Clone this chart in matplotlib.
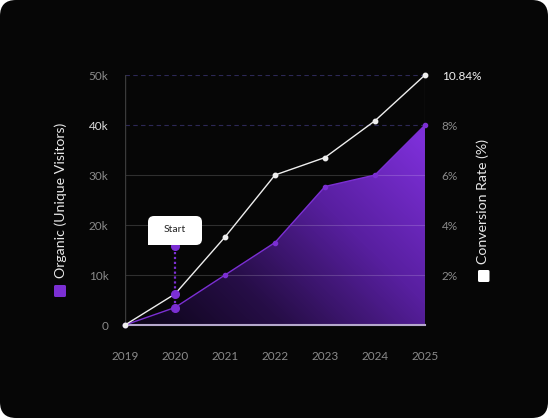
import matplotlib.pyplot as plt
import matplotlib.transforms as mtransforms
from matplotlib.patches import FancyBboxPatch, Rectangle, Polygon
from matplotlib.colors import LinearSegmentedColormap
import numpy as np

plt.rcParams['font.family'] = ['Lato', 'DejaVu Sans']

#data
years = [2019, 2020, 2021, 2022, 2023, 2024, 2025]
organic = [0, 3500, 10000, 16500, 27700, 30000, 40000]
conversion = [0, 1.24, 3.52, 6.0, 6.7, 8.17, 10.0]
left_ticks = [0, 10000, 20000, 30000, 40000, 50000]
left_labels = ['0', '10k', '20k', '30k', '40k', '50k']
right_ticks = [2, 4, 6, 8, 10]
right_labels = ['2%', '4%', '6%', '8%', '10.84%']
start_year = 2020
start_top = 15800

purple = '#7b2fd3'
gray = '#8a8a8a'

fig = plt.figure(figsize=(5.48, 4.18), dpi=100)
fig.patch.set_facecolor('white')

#rounded dark card, kept behind the axes
card = FancyBboxPatch((0, 0), 5.48, 4.18, boxstyle='round,pad=0,rounding_size=0.16',
                      transform=fig.dpi_scale_trans, fc='#060606', ec='none', zorder=-10)
fig.patches.append(card)

ax = fig.add_axes([125/548, 1-325/418, 300/548, 250/418])
ax.set_facecolor('none')
ax.set_xlim(2019, 2025)
ax.set_ylim(0, 50000)
for s in ax.spines.values():
    s.set_visible(False)

#gradient area
cmap = LinearSegmentedColormap.from_list('grad', ['#0a0414', '#270e48', '#581fa0', '#7d2fd8'])
xx, yy = np.meshgrid(np.linspace(0, 1, 300), np.linspace(0, 1, 250))
t = np.clip(0.62*xx + 0.42*yy*1.25, 0, 1)
img = ax.imshow(t, cmap=cmap, extent=[2019, 2025, 0, 50000], origin='lower',
                aspect='auto', zorder=1, vmin=0, vmax=1)
poly = Polygon(list(zip(years, organic)) + [(2025, 0), (2019, 0)], closed=True,
               transform=ax.transData, fc='none', ec='none')
ax.add_patch(poly)
img.set_clip_path(poly)

#grid
for v in [10000, 20000, 30000]:
    ax.axhline(v, color='white', alpha=0.17, lw=0.8, zorder=2)
for v in [40000, 50000]:
    ax.axhline(v, color='#2c2856', lw=0.8, ls=(0, (4, 3)), zorder=2)
ax.axvline(2019, color='#3a3a3a', lw=1, zorder=2)
ax.plot([2025, 2025], [0, 50000], color='#5a5a5a', lw=0.8, zorder=2)
ax.axhline(0, color='#b5a8cc', lw=1.5, zorder=3, clip_on=False)

#lines
ax.plot(years, organic, color=purple, lw=1, marker='o', ms=3, zorder=4, clip_on=False)
ax2 = ax.twinx()
ax2.set_ylim(0, 10)
for s in ax2.spines.values():
    s.set_visible(False)
ax2.plot(years, conversion, color='#eeeeee', lw=1, marker='o', ms=3.2, zorder=5, clip_on=False)

#start marker, drawn on the top axes (conversion units: 1% = 5k)
ax2.plot([start_year, start_year], [organic[1]/5000, start_top/5000], color=purple, lw=1.6,
         ls=(0, (1, 1.2)), zorder=6)
ax2.plot([start_year]*3, [organic[1]/5000, conversion[1], start_top/5000],
         'o', color=purple, ms=5.5, zorder=7, clip_on=False)
tr = fig.dpi_scale_trans + mtransforms.ScaledTranslation(start_year, 18900/5000, ax2.transData)
box = FancyBboxPatch((-0.27, -0.145), 0.54, 0.29, boxstyle='round,pad=0,rounding_size=0.06',
                     transform=tr, fc='white', ec='none', zorder=8)
ax2.add_artist(box)
ax2.add_artist(Rectangle((-0.27, -0.145), 0.08, 0.08, transform=tr, fc='white', ec='none', zorder=8))
ax2.text(0, 0.01, 'Start', transform=tr, ha='center', va='center', fontsize=7.5,
         color='#222222', zorder=9)

#ticks
ax.set_xticks(years)
ax.set_xticklabels([str(y) for y in years])
ax.set_yticks(left_ticks)
ax.set_yticklabels(left_labels)
ax.tick_params(axis='x', length=0, pad=19, labelsize=8.5, labelcolor=gray)
ax.tick_params(axis='y', length=0, pad=12, labelsize=8.5, labelcolor=gray)
ax.get_yticklabels()[4].set_color('#dddddd')
ax2.set_yticks(right_ticks)
ax2.set_yticklabels(right_labels)
ax2.tick_params(axis='y', length=0, pad=12, labelsize=8.5, labelcolor=gray)
ax2.get_yticklabels()[-1].set_color('#f2f2f2')

#axis titles with colour keys
fig.text(61/548, 1-200/418, 'Organic (Unique Visitors)', rotation=90, ha='center',
         va='center', fontsize=10.2, color='#e8e8e8')
fig.patches.append(FancyBboxPatch((0.54, 4.18-2.97), 0.12, 0.12,
                                  boxstyle='round,pad=0,rounding_size=0.015',
                                  transform=fig.dpi_scale_trans, fc=purple, ec='none'))
fig.text(483/548, 1-201/418, 'Conversion Rate (%)', rotation=90, ha='center',
         va='center', fontsize=10.2, color='#e8e8e8')
fig.patches.append(FancyBboxPatch((4.78, 4.18-2.82), 0.115, 0.12,
                                  boxstyle='round,pad=0,rounding_size=0.015',
                                  transform=fig.dpi_scale_trans, fc='white', ec='none'))

fig.savefig('out.png', dpi=100, facecolor=fig.get_facecolor())
